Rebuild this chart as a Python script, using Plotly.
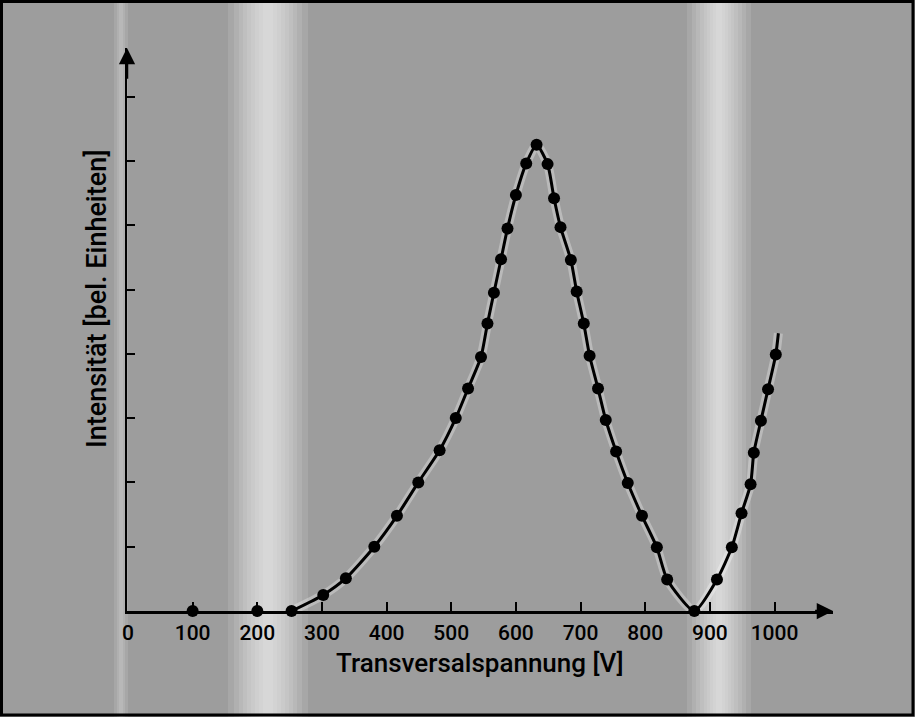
import plotly.graph_objects as go

# Measured points (Transversalspannung [V], Intensität [bel. Einheiten])
voltage = [100, 200, 253, 302, 337, 381, 416, 449, 482, 507, 526, 546, 556, 566, 577, 587,
           600, 616, 632, 649, 659, 669, 685, 694, 705, 714, 727, 739, 755, 773, 795, 818,
           834, 876, 911, 934, 949, 963, 968, 979, 990, 1002]
intensity = [0, 0, 0, 0.25, 0.51, 1.0, 1.48, 2.0, 2.5, 3.0, 3.46, 3.95, 4.47, 4.95, 5.47, 5.95,
             6.47, 6.96, 7.25, 6.95, 6.42, 5.97, 5.46, 4.97, 4.47, 3.97, 3.46, 2.97, 2.48, 1.99, 1.48, 0.99,
             0.49, 0, 0.49, 0.99, 1.52, 1.97, 2.46, 2.96, 3.45, 3.99]
# where the drawn curve stops beyond the last point
curve_end_v = [1006]
curve_end_i = [4.32]

x_ticks = [0, 100, 200, 300, 400, 500, 600, 700, 800, 900, 1000]
x_tick_labels = [str(v) for v in x_ticks]
y_ticks = [1, 2, 3, 4, 5, 6, 7, 8]

x_title = "Transversalspannung [V]"
y_title = "Intensität [bel. Einheiten]"

W, H = 915, 717
L, R, T, B = 127, 833, 48, 611   # plot area in pixels


def px(xpix):
    return (xpix - L) / (R - L)


def py(ypix):
    return (B - ypix) / (B - T)


BG = "#9d9d9d"
font_fam = "Roboto, Liberation Sans, sans-serif"

fig = go.Figure()

curve_v = voltage[2:] + curve_end_v
curve_i = intensity[2:] + curve_end_i

fig.add_trace(go.Scatter(x=curve_v, y=curve_i, mode="lines",
                         line=dict(color="rgba(255,255,255,0.3)", width=9, shape="spline", smoothing=0.6),
                         hoverinfo="skip", cliponaxis=False))
fig.add_trace(go.Scatter(x=curve_v, y=curve_i, mode="lines",
                         line=dict(color="black", width=3, shape="spline", smoothing=0.6),
                         hoverinfo="skip", cliponaxis=False))
fig.add_trace(go.Scatter(x=voltage, y=intensity, mode="markers",
                         marker=dict(color="black", size=12), cliponaxis=False))

shapes = []
# light vertical scan stripes (soft edges by stacking)
stripes = [
    (268, [40, 34, 29, 25, 21, 17, 13, 9, 5]),
    (719, [32, 27, 23, 19, 15, 12, 9, 6, 3]),
    (121, [7, 4, 2]),
]
for center, halfwidths in stripes:
    for hw in halfwidths:
        shapes.append(dict(type="rect", xref="paper", yref="paper",
                           x0=px(center - hw), x1=px(center + hw), y0=py(H + 5), y1=py(-5),
                           fillcolor="white", opacity=0.1, line=dict(width=0), layer="below"))
# outer frame
shapes.append(dict(type="rect", xref="paper", yref="paper",
                   x0=px(1.5), x1=px(W - 2), y0=py(H - 2), y1=py(1.5),
                   line=dict(color="black", width=3), fillcolor="rgba(0,0,0,0)", layer="above"))

x_max = (R - 128) / 0.6465
x_min = (L - 128) / 0.6465
y_max = (B - T) / 64.3

annotations = [
    # axis arrowheads
    dict(x=x_max, y=0, ax=x_max - 30, ay=0, xref="x", yref="y", axref="x", ayref="y",
         showarrow=True, arrowhead=2, arrowsize=1.3, arrowwidth=2.5, arrowcolor="black", text=""),
    dict(x=x_min, y=y_max, ax=x_min, ay=y_max - 0.5, xref="x", yref="y", axref="x", ayref="y",
         showarrow=True, arrowhead=2, arrowsize=1.3, arrowwidth=2.5, arrowcolor="black", text=""),
    dict(text=x_title, xref="paper", yref="paper", x=px(480), y=py(663), showarrow=False,
         xanchor="center", yanchor="middle",
         font=dict(family=font_fam, size=26, color="black", weight=500)),
    dict(text=y_title, xref="paper", yref="paper", x=px(97), y=py(299), showarrow=False,
         textangle=-90, xanchor="center", yanchor="middle",
         font=dict(family=font_fam, size=27, color="black", weight=500)),
]

fig.update_layout(
    width=W, height=H,
    margin=dict(l=L, r=W - R, t=T, b=H - B, pad=0),
    paper_bgcolor=BG, plot_bgcolor="rgba(0,0,0,0)",
    showlegend=False,
    shapes=shapes, annotations=annotations,
    xaxis=dict(range=[x_min, x_max], showgrid=False, zeroline=False, showline=True,
               linecolor="black", linewidth=2.5, ticks="inside", ticklen=9, tickwidth=2,
               tickcolor="black", tickvals=x_ticks, ticktext=x_tick_labels,
               tickfont=dict(family=font_fam, size=21, color="black", weight=500),
               ticklabelstandoff=1, fixedrange=True),
    yaxis=dict(range=[0, y_max], showgrid=False, zeroline=False, showline=True,
               linecolor="black", linewidth=2.5, ticks="inside", ticklen=8, tickwidth=2,
               tickcolor="black", tickvals=y_ticks, showticklabels=False, fixedrange=True),
)

fig.write_html("out.html", config={"displayModeBar": False, "staticPlot": True},
               post_script="document.body.style.margin='0';document.body.style.overflow='hidden';"
                           "document.body.style.background='" + BG + "';")
